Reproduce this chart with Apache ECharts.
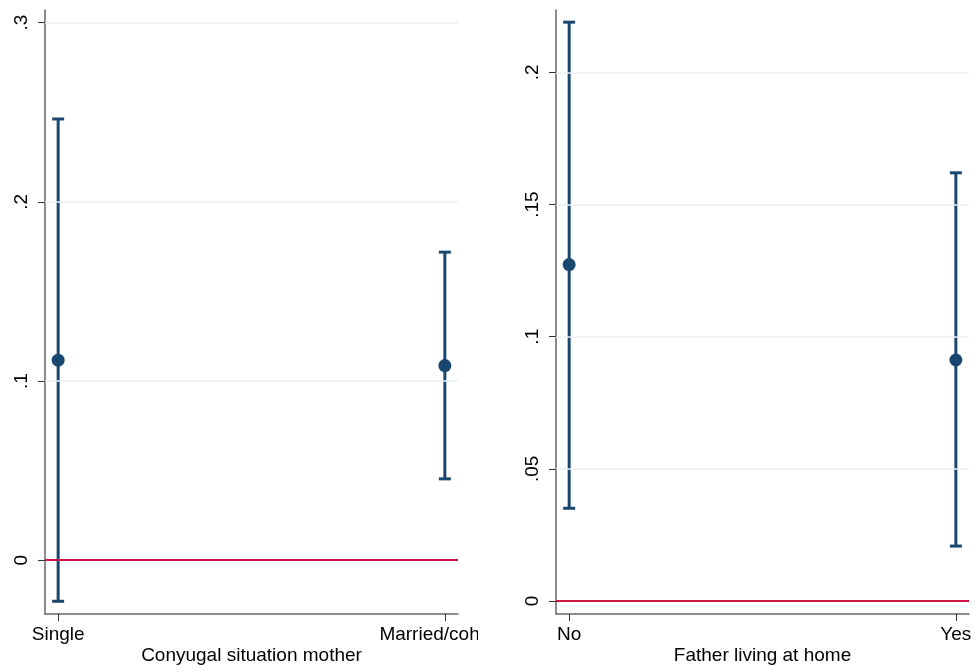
<!DOCTYPE html>
<html>
<head>
<meta charset="utf-8">
<script src="https://cdn.jsdelivr.net/npm/echarts@6/dist/echarts.min.js"></script>
<style>
  html, body { margin: 0; padding: 0; background: #fff; }
  #left { position: absolute; left: 0; top: 0; width: 478px; height: 672px; }
  #right { position: absolute; left: 478px; top: 0; width: 501px; height: 672px; }
</style>
</head>
<body>
<div id="left"></div>
<div id="right"></div>
<script>
// left panel: conyugal situation of the mother
const mothCats = ['Single', 'Married/cohabit'];
const mothEst = [0.1116, 0.1086];
const mothLow = [-0.0229, 0.0454];
const mothHigh = [0.2462, 0.1719];
const mothTicks = [0, 0.1, 0.2, 0.3];

// right panel: father living at home
const fathCats = ['No', 'Yes'];
const fathEst = [0.1273, 0.0912];
const fathLow = [0.0351, 0.0208];
const fathHigh = [0.219, 0.162];
const fathTicks = [0, 0.05, 0.1, 0.15, 0.2];

const navy = '#1a476f';
const red = '#cc1542';
const gridColor = '#e8f0f2';
const axisColor = '#666';
const font = 'Liberation Sans, Arial, sans-serif';

function fmt(v) {
  if (v === 0) return '0';
  return String(+v.toFixed(3)).replace(/^0/, '');
}

function makeOption(cfg) {
  const xs = cfg.cats.map((c, i) => i);
  return {
    animation: false,
    textStyle: { fontFamily: font },
    grid: { left: cfg.left, top: 10, width: 413, height: 604, containLabel: false, outerBoundsMode: 'none' },
    xAxis: {
      type: 'value',
      min: -0.034,
      max: 1.034,
      name: cfg.title,
      nameLocation: 'middle',
      nameGap: 32,
      nameMoveOverlap: false,
      nameTextStyle: { fontSize: 19, color: '#000', fontFamily: font },
      axisLine: { show: true, onZero: false, lineStyle: { color: axisColor, width: 1.5 } },
      axisTick: { show: true, customValues: xs, length: 7, lineStyle: { color: '#333', width: 1 } },
      axisLabel: {
        customValues: xs,
        formatter: v => cfg.cats[Math.round(v)],
        fontSize: 19,
        color: '#000',
        margin: 11,
        fontFamily: font
      },
      splitLine: { show: false }
    },
    yAxis: {
      type: 'value',
      min: cfg.ymin,
      max: cfg.ymax,
      axisLine: { show: true, onZero: false, lineStyle: { color: axisColor, width: 1.5 } },
      axisTick: { show: true, customValues: cfg.ticks, length: 7, lineStyle: { color: '#333', width: 1 } },
      axisLabel: {
        customValues: cfg.ticks,
        formatter: v => fmt(v),
        rotate: 90,
        fontSize: 19,
        color: '#000',
        margin: 14,
        fontFamily: font
      },
      splitLine: { show: false }
    },
    series: [
      {
        type: 'scatter',
        data: [],
        silent: true,
        z: 1,
        markLine: {
          silent: true,
          symbol: 'none',
          label: { show: false },
          lineStyle: { color: gridColor, width: 1.5, type: 'solid' },
          data: cfg.ticks.filter(t => t !== 0).map(t => ({ yAxis: t }))
            .concat([{ yAxis: 0, lineStyle: { color: red, width: 2, type: 'solid' } }])
        }
      },
      {
        type: 'custom',
        z: 3,
        data: xs.map(i => [i, cfg.low[i], cfg.high[i]]),
        encode: { x: 0, y: [1, 2] },
        renderItem: function (params, api) {
          const x = api.value(0);
          const pLo = api.coord([x, api.value(1)]);
          const pHi = api.coord([x, api.value(2)]);
          const half = 6;
          const style = { stroke: navy, lineWidth: 3 };
          return {
            type: 'group',
            children: [
              { type: 'line', shape: { x1: pLo[0], y1: pLo[1], x2: pHi[0], y2: pHi[1] }, style: style },
              { type: 'line', shape: { x1: pLo[0] - half, y1: pLo[1], x2: pLo[0] + half, y2: pLo[1] }, style: style },
              { type: 'line', shape: { x1: pHi[0] - half, y1: pHi[1], x2: pHi[0] + half, y2: pHi[1] }, style: style }
            ]
          };
        }
      },
      {
        type: 'scatter',
        z: 4,
        symbol: 'circle',
        symbolSize: 13,
        itemStyle: { color: navy, opacity: 1 },
        data: xs.map(i => [i, cfg.est[i]])
      }
    ]
  };
}

const leftChart = echarts.init(document.getElementById('left'));
leftChart.setOption(makeOption({
  left: 45,
  cats: mothCats, est: mothEst, low: mothLow, high: mothHigh, ticks: mothTicks,
  ymin: -0.030, ymax: 0.307,
  title: 'Conyugal situation mother'
}));

const rightChart = echarts.init(document.getElementById('right'));
rightChart.setOption(makeOption({
  left: 78,
  cats: fathCats, est: fathEst, low: fathLow, high: fathHigh, ticks: fathTicks,
  ymin: -0.0049, ymax: 0.2236,
  title: 'Father living at home'
}));
</script>
</body>
</html>
